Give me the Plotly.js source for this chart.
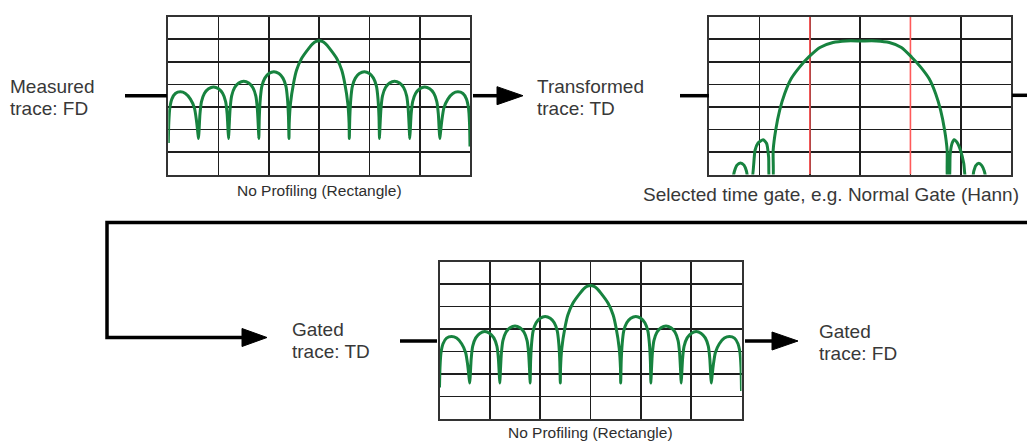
<!DOCTYPE html>
<html>
<head>
<meta charset="utf-8">
<script src="https://cdn.plot.ly/plotly-3.0.1.min.js"></script>
<style>html,body{margin:0;padding:0;background:#fff;}#chart{width:1027px;height:442px;}</style>
</head>
<body>
<div id="chart"></div>
<script>
// ---- Data (grid units: x 0..6 divisions, y 0..7 divisions) ----
// Measured trace, frequency domain (sinc-like magnitude)
const measuredX = [
  0, 0.01, 0.03, 0.07, 0.14, 0.24, 0.34, 0.44, 0.52, 0.56, 0.585, 0.6,
  0.61, 0.63, 0.66, 0.72, 0.8, 0.9, 1.0, 1.08, 1.14, 1.17, 1.19, 1.2,
  1.21, 1.23, 1.26, 1.32, 1.4, 1.5, 1.6, 1.68, 1.74, 1.77, 1.79, 1.8,
  1.81, 1.83, 1.86, 1.92, 2.0, 2.1, 2.2, 2.28, 2.34, 2.37, 2.39, 2.4,
  2.405, 2.43, 2.49, 2.55, 2.65, 2.79, 2.87, 2.94, 3.0, 3.06, 3.13, 3.21, 3.35, 3.45, 3.51, 3.57, 3.595, 3.6,
  3.61, 3.63, 3.66, 3.72, 3.8, 3.9, 4.0, 4.08, 4.14, 4.17, 4.19, 4.2,
  4.21, 4.23, 4.26, 4.32, 4.4, 4.5, 4.6, 4.68, 4.74, 4.77, 4.79, 4.8,
  4.81, 4.83, 4.86, 4.92, 5.0, 5.1, 5.2, 5.28, 5.34, 5.37, 5.39, 5.4,
  5.415, 5.44, 5.48, 5.56, 5.66, 5.76, 5.86, 5.93, 5.97, 5.99, 6
];
const measuredY = [
  1.4, 2.3, 2.95, 3.35, 3.6, 3.67, 3.6, 3.35, 2.95, 2.4, 1.9, 1.6,
  1.89, 2.69, 3.24, 3.61, 3.81, 3.89, 3.81, 3.61, 3.24, 2.69, 1.89, 1.6,
  2.14, 2.94, 3.49, 3.86, 4.06, 4.14, 4.06, 3.86, 3.49, 2.94, 2.14, 1.6,
  2.56, 3.36, 3.91, 4.28, 4.48, 4.56, 4.48, 4.28, 3.91, 3.36, 2.56, 1.6,
  2.3, 3.15, 4.04, 4.63, 5.15, 5.59, 5.8, 5.91, 5.94, 5.91, 5.8, 5.59, 5.15, 4.63, 4.04, 3.15, 2.3, 1.6,
  2.56, 3.36, 3.91, 4.28, 4.48, 4.56, 4.48, 4.28, 3.91, 3.36, 2.56, 1.6,
  2.14, 2.94, 3.49, 3.86, 4.06, 4.14, 4.06, 3.86, 3.49, 2.94, 2.14, 1.6,
  1.89, 2.69, 3.24, 3.61, 3.81, 3.89, 3.81, 3.61, 3.24, 2.69, 1.89, 1.6,
  1.9, 2.4, 2.95, 3.35, 3.6, 3.67, 3.6, 3.35, 2.95, 2.3, 1.25
];
// Transformed trace, time domain
const transformedX = [
  0.46, 0.5, 0.55, 0.62, 0.69, 0.74, 0.78,
  0.84, 0.91, 0.97, 1.07, 1.14, 1.18, 1.2,
  1.26, 1.27, 1.32, 1.4, 1.5, 1.63, 1.8, 1.98, 2.2, 2.46, 2.72, 3.02,
  3.32, 3.58, 3.82, 4.02, 4.2, 4.37, 4.5, 4.6, 4.68, 4.73, 4.74,
  4.77, 4.79, 4.83, 4.87, 4.93, 5.0, 5.06, 5.11,
  5.22, 5.26, 5.3, 5.36, 5.42, 5.47, 5.51
];
const transformedY = [
  -0.3, 0.15, 0.42, 0.52, 0.42, 0.15, -0.3,
  -0.3, 1.08, 1.4, 1.55, 1.38, 0.78, -0.3,
  -0.3, 1.08, 1.97, 2.86, 3.6, 4.26, 4.78, 5.22, 5.64, 5.86, 5.93, 5.93,
  5.93, 5.86, 5.64, 5.22, 4.78, 4.26, 3.6, 2.86, 1.97, 1.08, -0.3,
  -0.3, 0.9, 1.4, 1.55, 1.42, 1.05, 0.5, -0.3,
  -0.3, 0.15, 0.4, 0.5, 0.4, 0.15, -0.3
];
// Time gate edges (Normal Gate, Hann)
const gateEdges = [2, 4];
// Gated trace, frequency domain (same shape as measured)
const gatedX = measuredX.slice();
const gatedY = measuredY.slice();

// Text labels
const labels = {
  measured: ["Measured", "trace: FD"],
  transformed: ["Transformed", "trace: TD"],
  gatedTD: ["Gated", "trace: TD"],
  gatedFD: ["Gated", "trace: FD"]
};
const captionRect = "No Profiling (Rectangle)";
const captionGate = "Selected time gate, e.g. Normal Gate (Hann)";

// ---- Layout helpers (pixel -> paper) ----
const W = 1027, H = 442;
const PX = p => p / W;
const PY = p => 1 - p / H;

const GREEN = '#17833f';
const TEXT = '#383838';
const BIG_FONT = {family: 'Liberation Sans, Arial, sans-serif', size: 19, color: TEXT};
const CAP_FONT = {family: 'Liberation Sans, Arial, sans-serif', size: 15.5, color: '#2e2e2e'};

function gridAxis(domain, anchor) {
  return {
    domain: domain, anchor: anchor,
    showticklabels: false, ticks: '', dtick: 1, tick0: 0,
    showgrid: true, gridcolor: '#1e1e1e', gridwidth: 1.7,
    zeroline: false, showline: true, mirror: true,
    linecolor: '#333', linewidth: 2, fixedrange: true
  };
}

const lineStyle = {color: GREEN, width: 3, shape: 'spline', smoothing: 0.6};
const traces = [
  {x: measuredX, y: measuredY, xaxis: 'x', yaxis: 'y', mode: 'lines',
   line: lineStyle, hoverinfo: 'skip', showlegend: false},
  {x: [gateEdges[0], gateEdges[0], null, gateEdges[1], gateEdges[1]],
   y: [0, 7, null, 0, 7], xaxis: 'x2', yaxis: 'y2', mode: 'lines',
   line: {color: '#ff5a5a', width: 1.6}, hoverinfo: 'skip', showlegend: false},
  {x: transformedX, y: transformedY, xaxis: 'x2', yaxis: 'y2', mode: 'lines',
   line: lineStyle, hoverinfo: 'skip', showlegend: false},
  {x: gatedX, y: gatedY, xaxis: 'x3', yaxis: 'y3', mode: 'lines',
   line: lineStyle, hoverinfo: 'skip', showlegend: false}
];

const box1 = {x0: 168.3, x1: 470, y0: 16.8, y1: 174.6};
const box2 = {x0: 709.3, x1: 1011, y0: 16.8, y1: 174.6};
const box3 = {x0: 439.5, x1: 741.5, y0: 261.7, y1: 419};

function xdom(b) { return [PX(b.x0), PX(b.x1)]; }
function ydom(b) { return [PY(b.y1), PY(b.y0)]; }

const layout = {
  width: W, height: H,
  margin: {l: 0, r: 0, t: 0, b: 0},
  paper_bgcolor: '#fff', plot_bgcolor: '#fff',
  showlegend: false,
  xaxis: Object.assign(gridAxis(xdom(box1), 'y'), {range: [0, 6]}),
  yaxis: Object.assign(gridAxis(ydom(box1), 'x'), {range: [0, 7]}),
  xaxis2: Object.assign(gridAxis(xdom(box2), 'y2'), {range: [0, 6]}),
  yaxis2: Object.assign(gridAxis(ydom(box2), 'x2'), {range: [0, 7]}),
  xaxis3: Object.assign(gridAxis(xdom(box3), 'y3'), {range: [0, 6]}),
  yaxis3: Object.assign(gridAxis(ydom(box3), 'x3'), {range: [0, 7]}),
  shapes: [],
  annotations: []
};

const LW = 3.5;
function hline(x0, x1, y) {
  layout.shapes.push({type: 'line', xref: 'paper', yref: 'paper',
    x0: PX(x0), x1: PX(x1), y0: PY(y), y1: PY(y), line: {color: '#000', width: LW}});
}
function path(pts) {
  layout.shapes.push({type: 'path', xref: 'paper', yref: 'paper',
    path: 'M' + pts.map(p => PX(p[0]) + ',' + PY(p[1])).join('L'),
    line: {color: '#000', width: LW}});
}
function head(xBase, xTip, y, half) {
  layout.shapes.push({type: 'path', xref: 'paper', yref: 'paper',
    path: 'M' + PX(xBase) + ',' + PY(y - half) + 'L' + PX(xTip) + ',' + PY(y) +
          'L' + PX(xBase) + ',' + PY(y + half) + 'Z',
    fillcolor: '#000', line: {color: '#000', width: 1}});
}

// connectors
hline(125, 167, 95.7);
hline(473, 498, 95.7); head(497, 523, 95.7, 9);
hline(680, 709, 95.7);
hline(1012, 1027, 95.3);
path([[1027, 222.5], [107, 222.5], [107, 337.5], [243, 337.5]]);
head(242, 267, 337.5, 9);
hline(400, 437, 341);
hline(745, 773, 341); head(772, 798, 341, 9);

function text(t, x, y, font, xanchor) {
  layout.annotations.push({text: t, xref: 'paper', yref: 'paper',
    x: PX(x), y: PY(y), xanchor: xanchor || 'left', yanchor: 'middle',
    showarrow: false, font: font, borderpad: 0});
}
text(labels.measured[0], 9, 86.7, BIG_FONT);
text(labels.measured[1], 9, 108, BIG_FONT);
text(labels.transformed[0], 536, 86.7, BIG_FONT);
text(labels.transformed[1], 536, 108, BIG_FONT);
text(labels.gatedTD[0], 291, 329.3, BIG_FONT);
text(labels.gatedTD[1], 291, 351.7, BIG_FONT);
text(labels.gatedFD[0], 818, 331.7, BIG_FONT);
text(labels.gatedFD[1], 818, 353.3, BIG_FONT);
text(captionGate, 642, 194, BIG_FONT);
text(captionRect, 319.3, 190, CAP_FONT, 'center');
text(captionRect, 590, 432, CAP_FONT, 'center');

Plotly.newPlot('chart', traces, layout, {staticPlot: true, displayModeBar: false});
</script>
</body>
</html>
